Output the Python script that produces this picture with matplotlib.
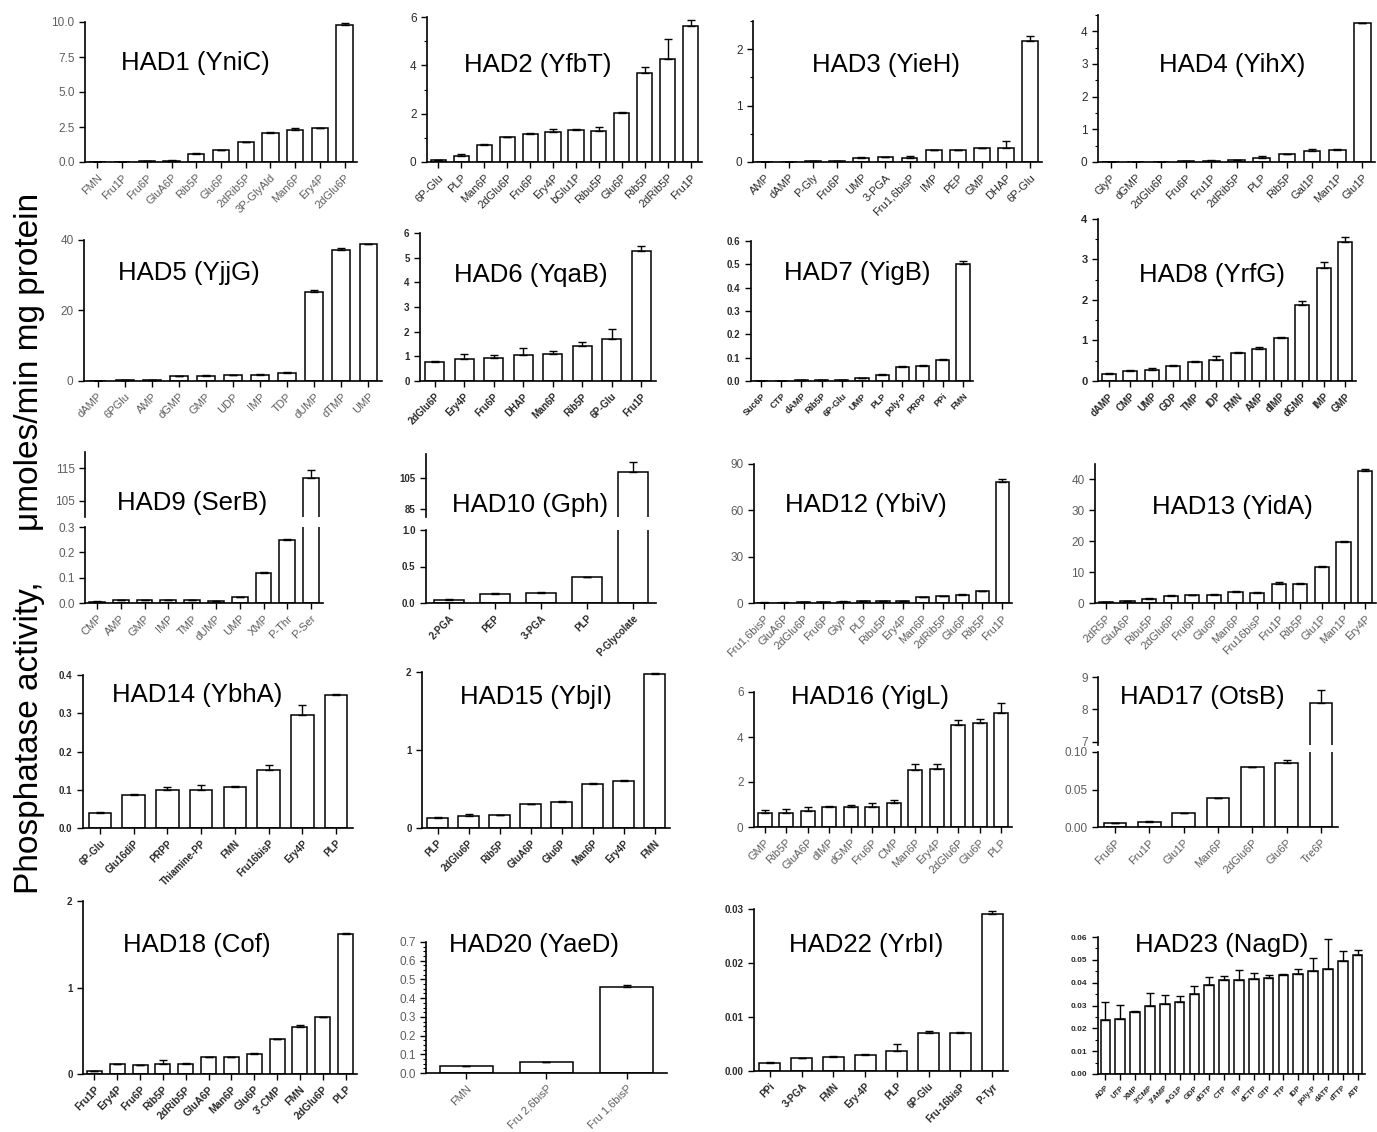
import matplotlib
matplotlib.use("Agg")
import matplotlib.pyplot as plt
import numpy as np
from matplotlib.ticker import AutoMinorLocator, FormatStrFormatter

plt.rcParams['font.family'] = ['Liberation Sans', 'DejaVu Sans']

W, H = 1377, 1132

# ---- data ----
had1_lab = ["FMN", "Fru1P", "Fru6P", "GluA6P", "Rib5P", "Glu6P", "2dRib5P", "3P-GlyAld", "Man6P", "Ery4P", "2dGlu6P"]
had1_val = [0.02, 0.03, 0.06, 0.1, 0.6, 0.85, 1.4, 2.05, 2.3, 2.4, 9.8]
had1_err = [0, 0, 0.01, 0.02, 0.03, 0.04, 0.05, 0.08, 0.1, 0.02, 0.15]

had2_lab = ["6P-Glu", "PLP", "Man6P", "2dGlu6P", "Fru6P", "Ery4P", "bGlu1P", "Ribu5P", "Glu6P", "Rib5P", "2dRib5P", "Fru1P"]
had2_val = [0.07, 0.25, 0.7, 1.02, 1.17, 1.25, 1.32, 1.3, 2.02, 3.7, 4.28, 5.62]
had2_err = [0.02, 0.1, 0.03, 0.02, 0.03, 0.1, 0.04, 0.13, 0.03, 0.22, 0.8, 0.25]

had3_lab = ["AMP", "dAMP", "P-Gly", "Fru6P", "UMP", "3-PGA", "Fru1,6bisP", "IMP", "PEP", "GMP", "DHAP", "6P-Glu"]
had3_val = [0.005, 0.005, 0.02, 0.02, 0.07, 0.08, 0.07, 0.21, 0.21, 0.24, 0.25, 2.15]
had3_err = [0, 0, 0.005, 0.005, 0.01, 0.01, 0.04, 0.01, 0.01, 0.005, 0.12, 0.08]

had4_lab = ["GlyP", "dGMP", "2dGlu6P", "Fru6P", "Fru1P", "2dRib5P", "PLP", "Rib5P", "Gal1P", "Man1P", "Glu1P"]
had4_val = [0.01, 0.01, 0.01, 0.02, 0.04, 0.05, 0.13, 0.23, 0.35, 0.38, 4.25]
had4_err = [0, 0, 0, 0, 0.01, 0.01, 0.05, 0.01, 0.04, 0.01, 0.02]

had5_lab = ["dAMP", "6PGlu", "AMP", "dGMP", "GMP", "UDP", "IMP", "TDP", "dUMP", "dTMP", "UMP"]
had5_val = [0.05, 0.25, 0.3, 1.3, 1.5, 1.6, 1.8, 2.3, 25.2, 37.3, 38.8]
had5_err = [0, 0, 0, 0.1, 0.1, 0.1, 0.1, 0.15, 0.7, 0.5, 0.2]

had6_lab = ["2dGlu6P", "Ery4P", "Fru6P", "DHAP", "Man6P", "Rib5P", "6P-Glu", "Fru1P"]
had6_val = [0.75, 0.9, 0.95, 1.05, 1.1, 1.42, 1.7, 5.27]
had6_err = [0.08, 0.2, 0.1, 0.3, 0.1, 0.18, 0.4, 0.2]

had7_lab = ["Suc6P", "CTP", "dAMP", "Rib5P", "6P-Glu", "UMP", "PLP", "poly-P", "PRPP", "PPi", "FMN"]
had7_val = [0.0, 0.0, 0.003, 0.003, 0.003, 0.012, 0.026, 0.062, 0.064, 0.091, 0.5]
had7_err = [0, 0, 0.001, 0.001, 0.001, 0.002, 0.002, 0.001, 0.003, 0.003, 0.015]

had8_lab = ["dAMP", "CMP", "UMP", "GDP", "TMP", "IDP", "FMN", "AMP", "dIMP", "dGMP", "IMP", "GMP"]
had8_val = [0.17, 0.25, 0.28, 0.37, 0.47, 0.52, 0.69, 0.8, 1.07, 1.88, 2.8, 3.42]
had8_err = [0.02, 0.03, 0.03, 0.02, 0.02, 0.1, 0.03, 0.04, 0.02, 0.09, 0.13, 0.13]

had9_lab = ["CMP", "AMP", "GMP", "IMP", "TMP", "dUMP", "UMP", "XMP", "P-Thr", "P-Ser"]
had9_val = [0.005, 0.01, 0.01, 0.01, 0.01, 0.008, 0.022, 0.118, 0.25, 112]
had9_err = [0.001, 0.001, 0.001, 0.001, 0.001, 0.001, 0.001, 0.003, 0.004, 2.4]

had10_lab = ["2-PGA", "PEP", "3-PGA", "PLP", "P-Glycolate"]
had10_val = [0.04, 0.12, 0.14, 0.35, 108.8]
had10_err = [0.01, 0.02, 0.01, 0, 6]

had12_lab = ["Fru1,6bisP", "GluA6P", "2dGlu6P", "Fru6P", "GlyP", "PLP", "Ribu5P", "Ery4P", "Man6P", "2dRib5P", "Glu6P", "Rib5P", "Fru1P"]
had12_val = [0.3, 0.3, 0.5, 0.7, 0.9, 1.0, 1.2, 1.5, 3.8, 4.3, 5.3, 7.5, 78.5]
had12_err = [0.1, 0.1, 0.1, 0.1, 0.2, 0.2, 0.2, 0.1, 0.3, 0.4, 0.3, 0.3, 1.5]

had13_lab = ["2dR5P", "GluA6P", "Ribu5P", "2dGlu6P", "Fru6P", "Glu6P", "Man6P", "Fru16bisP", "Fru1P", "Rib5P", "Glu1P", "Man1P", "Ery4P"]
had13_val = [0.3, 0.6, 1.4, 2.2, 2.6, 2.7, 3.6, 3.3, 6.2, 6.3, 11.7, 19.8, 42.8]
had13_err = [0.1, 0.2, 0.3, 0.4, 0.1, 0.1, 0.3, 0.3, 0.5, 0.1, 0.3, 0.4, 0.5]

had14_lab = ["6P-Glu", "Glu16diP", "PRPP", "Thiamine-PP", "FMN", "Fru16bisP", "Ery4P", "PLP"]
had14_val = [0.04, 0.087, 0.1, 0.099, 0.107, 0.151, 0.295, 0.348]
had14_err = [0.002, 0.002, 0.008, 0.014, 0.002, 0.013, 0.027, 0.002]

had15_lab = ["PLP", "2dGlu6P", "Rib5P", "GluA6P", "Glu6P", "Man6P", "Ery4P", "FMN"]
had15_val = [0.13, 0.16, 0.165, 0.31, 0.33, 0.56, 0.6, 1.98]
had15_err = [0.01, 0.015, 0, 0, 0.015, 0.015, 0.02, 0.01]

had16_lab = ["GMP", "Rib5P", "GluA6P", "dIMP", "dGMP", "Fru6P", "CMP", "Man6P", "Ery4P", "2dGlu6P", "Glu6P", "PLP"]
had16_val = [0.62, 0.63, 0.7, 0.87, 0.87, 0.9, 1.05, 2.52, 2.57, 4.55, 4.62, 5.05]
had16_err = [0.13, 0.15, 0.18, 0.08, 0.1, 0.15, 0.15, 0.3, 0.25, 0.2, 0.2, 0.45]

had17_lab = ["Fru6P", "Fru1P", "Glu1P", "Man6P", "2dGlu6P", "Glu6P", "Tre6P"]
had17_val = [0.005, 0.007, 0.019, 0.039, 0.08, 0.086, 8.2]
had17_err = [0.001, 0.001, 0, 0, 0, 0.003, 0.4]

had18_lab = ["Fru1P", "Ery4P", "Fru6P", "Rib5P", "2dRib5P", "GluA6P", "Man6P", "Glu6P", "3'-CMP", "FMN", "2dGlu6P", "PLP"]
had18_val = [0.03, 0.11, 0.1, 0.11, 0.12, 0.2, 0.2, 0.23, 0.4, 0.54, 0.66, 1.62]
had18_err = [0.01, 0.01, 0, 0.05, 0.01, 0, 0, 0.01, 0.01, 0.03, 0, 0.005]

had20_lab = ["FMN", "Fru 2,6bisP", "Fru 1,6bisP"]
had20_val = [0.037, 0.057, 0.457]
had20_err = [0.003, 0.003, 0.012]

had22_lab = ["PPi", "3-PGA", "FMN", "Ery-4P", "PLP", "6P-Glu", "Fru-16bisP", "P-Tyr"]
had22_val = [0.0015, 0.0024, 0.0026, 0.003, 0.0037, 0.007, 0.007, 0.029]
had22_err = [0.0001, 0, 0.0002, 0.0001, 0.0013, 0.0005, 0.0002, 0.0006]

had23_lab = ["ADP", "UTP", "XMP", "3'CMP", "3'AMP", "a-G1P", "GDP", "dGTP", "CTP", "ITP", "dCTP", "GTP", "TTP", "IDP", "poly-P", "dATP", "dTTP", "ATP"]
had23_val = [0.0237, 0.0243, 0.027, 0.0297, 0.0305, 0.0315, 0.0352, 0.039, 0.0413, 0.0413, 0.0415, 0.042, 0.0432, 0.0437, 0.045, 0.0462, 0.0495, 0.052]
had23_err = [0.008, 0.006, 0.0007, 0.0057, 0.0043, 0.0027, 0.0035, 0.0035, 0.0015, 0.0043, 0.0028, 0.0015, 0.0005, 0.0023, 0.006, 0.0128, 0.0045, 0.0025]

DARK = "#2a2a2a"
GREY = "#5e5e5e"

fig = plt.figure(figsize=(W / 100, H / 100), dpi=100)


def box(L, T, R, B):
    # pixel box -> figure fraction
    return [L / W, 1 - B / H, (R - L) / W, (B - T) / H]


def style_axes(ax, bottom=True):
    for s in ("top", "right"):
        ax.spines[s].set_visible(False)
    ax.spines["left"].set_linewidth(1.2)
    ax.spines["bottom"].set_linewidth(1.2)
    if not bottom:
        ax.spines["bottom"].set_visible(False)
    ax.tick_params(direction="out", length=4, width=1)
    ax.tick_params(which="minor", length=2, width=0.8)


def draw_bars(ax, vals, errs):
    x = np.arange(len(vals))
    ax.bar(x, vals, width=0.66, color="white", edgecolor="black", linewidth=1.1, zorder=2)
    ax.errorbar(x, vals, yerr=[np.zeros(len(errs)), errs], fmt="none", ecolor="black",
                elinewidth=1, capsize=3, capthick=1, zorder=3)
    ax.set_xlim(-0.5, len(vals) - 0.5)


def xlabels(ax, labels, size, weight, color):
    ax.set_xticks(np.arange(len(labels)))
    ax.set_xticklabels(labels, rotation=45, ha="right", rotation_mode="anchor",
                       fontsize=size, fontweight=weight, color=color)


def title(tx, ty, text):
    fig.text(tx / W, 1 - ty / H, text, ha="center", va="center", fontsize=18.5)


def color_y(ax, size, weight, color):
    ax.tick_params(axis="y", labelsize=size)
    for t in ax.get_yticklabels():
        t.set_color(color)
        t.set_fontweight(weight)


def panel(lab, val, err, rect, ylim, yticks, fmt, ttl, tpos, lsize=8, lweight="normal",
          lcolor=DARK, ysize=8.5, minor=0):
    ax = fig.add_axes(box(*rect))
    draw_bars(ax, val, err)
    ax.set_ylim(*ylim)
    ax.set_yticks(yticks)
    ax.yaxis.set_major_formatter(FormatStrFormatter(fmt))
    if minor:
        ax.yaxis.set_minor_locator(AutoMinorLocator(minor))
    style_axes(ax)
    color_y(ax, ysize, lweight, lcolor)
    xlabels(ax, lab, lsize, lweight, lcolor)
    title(tpos[0], tpos[1], ttl)
    return ax


def broken(lab, val, err, rect_top, rect_bot, ylim_top, ylim_bot, ticks_top, ticks_bot,
           fmt_top, fmt_bot, ttl, tpos, lsize=8, lweight="normal", lcolor=DARK, ysize=8.5):
    axt = fig.add_axes(box(*rect_top))
    axb = fig.add_axes(box(*rect_bot))
    for ax in (axt, axb):
        draw_bars(ax, val, err)
    axt.set_ylim(*ylim_top)
    axb.set_ylim(*ylim_bot)
    axt.set_yticks(ticks_top)
    axb.set_yticks(ticks_bot)
    axt.yaxis.set_major_formatter(FormatStrFormatter(fmt_top))
    axb.yaxis.set_major_formatter(FormatStrFormatter(fmt_bot))
    style_axes(axt, bottom=False)
    style_axes(axb)
    axt.set_xticks([])
    xlabels(axb, lab, lsize, lweight, lcolor)
    color_y(axt, ysize, lweight, lcolor)
    color_y(axb, ysize, lweight, lcolor)
    title(tpos[0], tpos[1], ttl)


# ---- row 1 ----
panel(had1_lab, had1_val, had1_err, (85, 22, 357, 162), (0, 10), [0, 2.5, 5, 7.5, 10], "%.1f",
      "HAD1 (YniC)", (195, 63), lcolor=GREY)
panel(had2_lab, had2_val, had2_err, (427, 17, 702, 162), (0, 6), [0, 2, 4, 6], "%d",
      "HAD2 (YfbT)", (538, 65), minor=2)
panel(had3_lab, had3_val, had3_err, (753, 21, 1042, 162), (0, 2.5), [0, 1, 2], "%d",
      "HAD3 (YieH)", (886, 65), minor=2)
panel(had4_lab, had4_val, had4_err, (1098, 15, 1375, 162), (0, 4.5), [0, 1, 2, 3, 4], "%d",
      "HAD4 (YihX)", (1232, 65), minor=2)

# ---- row 2 ----
panel(had5_lab, had5_val, had5_err, (84, 240, 382, 381), (0, 40), [0, 20, 40], "%d",
      "HAD5 (YjjG)", (189, 273), lcolor=GREY)
panel(had6_lab, had6_val, had6_err, (420, 233, 656, 381), (0, 6), [0, 1, 2, 3, 4, 5, 6], "%d",
      "HAD6 (YqaB)", (531, 275), lsize=7, lweight="bold", ysize=7)
panel(had7_lab, had7_val, had7_err, (751, 241, 973, 381), (0, 0.6),
      [0, 0.1, 0.2, 0.3, 0.4, 0.5, 0.6], "%.1f",
      "HAD7 (YigB)", (857, 273), lsize=6.5, lweight="bold", ysize=7)
panel(had8_lab, had8_val, had8_err, (1098, 219, 1356, 381), (0, 4), [0, 1, 2, 3, 4], "%d",
      "HAD8 (YrfG)", (1212, 275), lsize=7, lweight="bold", ysize=8, minor=2)

# ---- row 3 ----
broken(had9_lab, had9_val, had9_err, (85, 452, 323, 517), (85, 527, 323, 603),
       (100, 120), (0, 0.3), [105, 115], [0, 0.1, 0.2, 0.3], "%d", "%.1f",
       "HAD9 (SerB)", (192, 503), lcolor=GREY)
broken(had10_lab, had10_val, had10_err, (426, 454, 656, 517), (426, 530, 656, 603),
       (80, 120), (0, 1.0), [85, 105], [0, 0.5, 1.0], "%d", "%.1f",
       "HAD10 (Gph)", (530, 505), lsize=7, lweight="bold", ysize=7)
panel(had12_lab, had12_val, had12_err, (754, 464, 1012, 603), (0, 90), [0, 30, 60, 90], "%d",
      "HAD12 (YbiV)", (866, 505), lcolor=GREY)
panel(had13_lab, had13_val, had13_err, (1095, 464, 1376, 603), (0, 45), [0, 10, 20, 30, 40], "%d",
      "HAD13 (YidA)", (1232, 507), lcolor=GREY)

# ---- row 4 ----
panel(had14_lab, had14_val, had14_err, (83, 675, 353, 828), (0, 0.4), [0, 0.1, 0.2, 0.3, 0.4], "%.1f",
      "HAD14 (YbhA)", (197, 695), lsize=7, lweight="bold", ysize=7)
panel(had15_lab, had15_val, had15_err, (422, 672, 670, 828), (0, 2), [0, 1, 2], "%d",
      "HAD15 (YbjI)", (536, 697), lsize=7, lweight="bold", ysize=7)
panel(had16_lab, had16_val, had16_err, (754, 692, 1012, 827), (0, 6), [0, 2, 4, 6], "%d",
      "HAD16 (YigL)", (870, 697), lcolor=GREY)
broken(had17_lab, had17_val, had17_err, (1098, 677, 1338, 745), (1098, 752, 1338, 827),
       (6.9, 9), (0, 0.1), [7, 8, 9], [0, 0.05, 0.10], "%d", "%.2f",
       "HAD17 (OtsB)", (1202, 697), lcolor=GREY)

# ---- row 5 ----
panel(had18_lab, had18_val, had18_err, (83, 901, 357, 1074), (0, 2), [0, 1, 2], "%d",
      "HAD18 (Cof)", (197, 945), lsize=7.5, lweight="bold", ysize=7)
panel(had20_lab, had20_val, had20_err, (426, 942, 667, 1073), (0, 0.7),
      [0, 0.1, 0.2, 0.3, 0.4, 0.5, 0.6, 0.7], "%.1f",
      "HAD20 (YaeD)", (534, 945), lcolor=GREY, minor=4)
panel(had22_lab, had22_val, had22_err, (754, 909, 1008, 1071), (0, 0.03), [0, 0.01, 0.02, 0.03], "%.2f",
      "HAD22 (YrbI)", (866, 945), lsize=7, lweight="bold", ysize=7)
panel(had23_lab, had23_val, had23_err, (1098, 937, 1365, 1074), (0, 0.06),
      [0, 0.01, 0.02, 0.03, 0.04, 0.05, 0.06], "%.2f",
      "HAD23 (NagD)", (1222, 945), lsize=5.5, lweight="bold", ysize=6, minor=2)

fig.text(30 / W, 1 - 738 / H, "Phosphatase activity,", rotation=90,
         ha="center", va="center", fontsize=24)
fig.text(30 / W, 1 - 362 / H, "\u03bcmoles/min mg protein", rotation=90,
         ha="center", va="center", fontsize=24)

fig.savefig("out.png", dpi=100)
